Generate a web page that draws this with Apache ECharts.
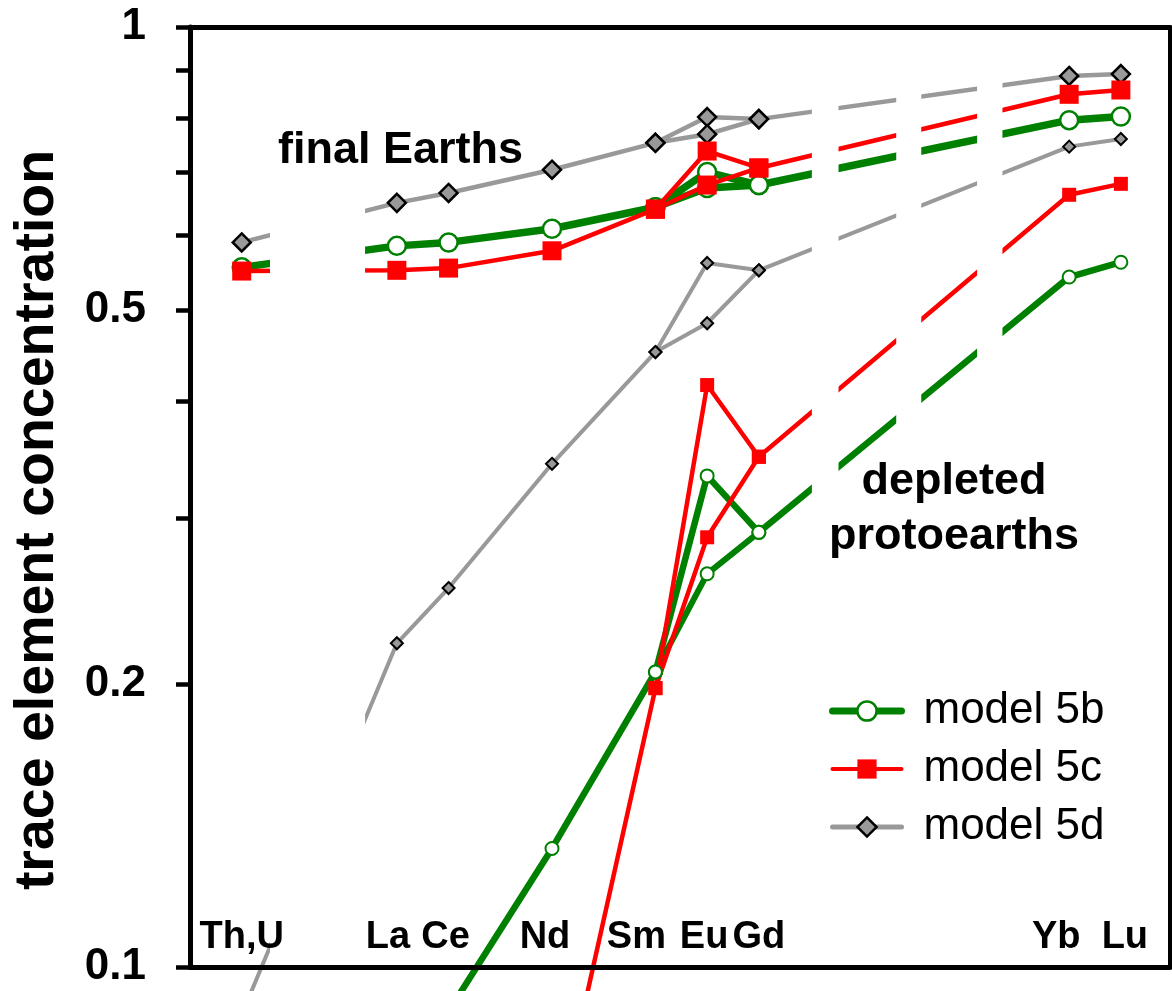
<!DOCTYPE html>
<html>
<head>
<meta charset="utf-8">
<script src="https://cdn.jsdelivr.net/npm/echarts@6/dist/echarts.min.js"></script>
<style>
html,body{margin:0;padding:0;background:#fff;}
#chart{width:1172px;height:991px;}
</style>
</head>
<body>
<div id="chart"></div>
<script>
// ---------- data ----------
const elements   = ['Th,U', 'La', 'Ce', 'Nd', 'Sm', 'Eu', 'Gd', 'Yb', 'Lu'];
const elementPos = [0, 3, 4, 6, 8, 9, 10, 16, 17];

// final Earths (values per element; Eu has two alternatives)
const final5b = [0.555, 0.585, 0.590, 0.610, 0.643, 0.701, 0.679, 0.796, 0.803];
const final5bEuAlt = 0.674;
const final5c = [0.550, 0.551, 0.554, 0.578, 0.640, 0.738, 0.708, 0.848, 0.857];
const final5cEuAlt = 0.679;
const final5d = [0.590, 0.650, 0.666, 0.705, 0.753, 0.802, 0.798, 0.887, 0.891];
const final5dEuAlt = 0.769;

// depleted protoearths
const depleted5b = [null, null, 0.0897, 0.1337, 0.206, 0.333, 0.290, 0.542, 0.562];
const depleted5bEuAlt = 0.262;
const depleted5c = [null, null, null, 0.0637, 0.198, 0.416, 0.349, 0.663, 0.681];
const depleted5cEuAlt = 0.2865;
const depleted5d = [0.089, 0.221, 0.253, 0.343, 0.451, 0.561, 0.551, 0.746, 0.760];
const depleted5dEuAlt = 0.484;

const yTickValues  = [0.1, 0.2, 0.3, 0.4, 0.5, 0.6, 0.7, 0.8, 0.9, 1];
const yLabelValues = [0.1, 0.2, 0.5, 1];
const legendNames  = ['model 5b', 'model 5c', 'model 5d'];

// ---------- styling / helpers ----------
const FONT = 'Arial, "Liberation Sans", sans-serif';
const GREEN = '#008000', RED = '#ff0000', GREY = '#999999';
// white vertical strips that interrupt the lines (in x-axis units)
const maskBands = [[0.547, 2.385], [11.025, 11.54], [12.656, 13.14], [14.22, 14.71]];
// horizontal nudges of element labels (px)
const labelShift = {'Th,U': 0, 'La': -9, 'Ce': -3, 'Nd': -7, 'Sm': -19, 'Eu': -3, 'Gd': 0, 'Yb': -13, 'Lu': 4};

function mainPoints(arr) {
  const out = [];
  elementPos.forEach((x, i) => { if (arr[i] != null) out.push([x, arr[i]]); });
  return out;
}
function altPoints(arr, alt) {
  const iSm = elements.indexOf('Sm'), iEu = elements.indexOf('Eu'), iGd = elements.indexOf('Gd');
  return [[elementPos[iSm], arr[iSm]], [elementPos[iEu], alt], [elementPos[iGd], arr[iGd]]];
}
function lineSeries(name, data, color, width, symbol, size, itemStyle) {
  return {
    type: 'line', name: name, data: data, clip: false,
    symbol: symbol, symbolSize: size, showAllSymbol: true,
    lineStyle: {color: color, width: width},
    itemStyle: itemStyle,
    emphasis: {disabled: true},
    z: 3
  };
}

const bigDiamond   = {color: GREY, borderColor: '#000', borderWidth: 2.5};
const smallDiamond = {color: GREY, borderColor: '#000', borderWidth: 2};
const bigCircle    = {color: '#fff', borderColor: GREEN, borderWidth: 2.5};
const smallCircle  = {color: '#fff', borderColor: GREEN, borderWidth: 2};
const redSquare    = {color: RED, borderWidth: 0};

const series = [
  lineSeries('model 5d', mainPoints(final5d), GREY, 4.5, 'diamond', [18, 18], bigDiamond),
  lineSeries('model 5d', altPoints(final5d, final5dEuAlt), GREY, 4.5, 'diamond', [18, 18], bigDiamond),
  lineSeries('model 5d', mainPoints(depleted5d), GREY, 4, 'diamond', [12, 12], smallDiamond),
  lineSeries('model 5d', altPoints(depleted5d, depleted5dEuAlt), GREY, 4, 'diamond', [12, 12], smallDiamond),
  lineSeries('model 5b', mainPoints(final5b), GREEN, 7.5, 'circle', 18, bigCircle),
  lineSeries('model 5b', altPoints(final5b, final5bEuAlt), GREEN, 7.5, 'circle', 18, bigCircle),
  lineSeries('model 5b', mainPoints(depleted5b), GREEN, 6.5, 'circle', 13, smallCircle),
  lineSeries('model 5b', altPoints(depleted5b, depleted5bEuAlt), GREEN, 6, 'circle', 13, smallCircle),
  lineSeries('model 5c', mainPoints(final5c), RED, 4.5, 'rect', 19, redSquare),
  lineSeries('model 5c', altPoints(final5c, final5cEuAlt), RED, 4.5, 'rect', 19, redSquare),
  lineSeries('model 5c', mainPoints(depleted5c), RED, 4.5, 'rect', 14, redSquare),
  lineSeries('model 5c', altPoints(depleted5c, depleted5cEuAlt), RED, 4.5, 'rect', 14, redSquare),
  {
    type: 'line', name: 'mask', data: [], z: 10, silent: true,
    markArea: {
      silent: true, z: 10,
      itemStyle: {color: '#ffffff', borderWidth: 0},
      label: {show: false},
      data: maskBands.map(b => [{xAxis: b[0]}, {xAxis: b[1]}])
    }
  }
];

// element labels: shift each label horizontally without enlarging its box
const LABEL_FONT = 'bold 38px ' + FONT;
const measureCtx = document.createElement('canvas').getContext('2d');
measureCtx.font = LABEL_FONT;
const rich = {};
elements.forEach((e, i) => {
  const s = labelShift[e] || 0;
  const tw = measureCtx.measureText(e).width;
  const st = {fontSize: 38, fontWeight: 'bold', fontFamily: FONT, color: '#000', lineHeight: 38};
  if (s !== 0) {
    st.width = Math.max(2, tw - 2 * Math.abs(s));
    st.align = s < 0 ? 'right' : 'left';
  }
  rich['l' + i] = st;
});

const legendStyles = {
  'model 5b': {lineStyle: {color: GREEN, width: 7, cap: 'round'}, itemStyle: {color: '#fff', borderColor: GREEN, borderWidth: 2.5}},
  'model 5c': {lineStyle: {color: RED, width: 4, cap: 'round'}, itemStyle: {color: RED, borderWidth: 0}},
  'model 5d': {lineStyle: {color: GREY, width: 5, cap: 'round'}, itemStyle: {color: GREY, borderColor: '#000', borderWidth: 2.5}}
};

const option = {
  backgroundColor: '#fff',
  animation: false,
  grid: {left: 190, right: 2, top: 27, bottom: 24, containLabel: false},
  legend: {
    data: legendNames.map(n => Object.assign({name: n}, legendStyles[n])),
    orient: 'vertical', left: 829, top: 688, z: 30,
    itemWidth: 69, itemHeight: 24, itemGap: 12, padding: 0, selectedMode: false,
    textStyle: {fontSize: 44, fontFamily: FONT, color: '#000', lineHeight: 46, padding: [0, 0, 0, 17]}
  },
  xAxis: [
    {
      type: 'value', min: -1, max: 17.95, position: 'bottom', z: 20,
      axisLine: {show: true, onZero: false, lineStyle: {color: '#000', width: 5}},
      axisTick: {show: false},
      splitLine: {show: false},
      axisLabel: {
        inside: true, margin: 10, showMaxLabel: true, showMinLabel: true, hideOverlap: false,
        customValues: elementPos,
        formatter: function (v) {
          const i = elementPos.indexOf(Math.round(v));
          return i < 0 ? '' : '{l' + i + '|' + elements[i] + '}';
        },
        rich: rich
      }
    },
    {
      type: 'value', min: -1, max: 17.95, position: 'top', z: 20,
      axisLine: {show: true, onZero: false, lineStyle: {color: '#000', width: 5}},
      axisTick: {show: false}, axisLabel: {show: false}, splitLine: {show: false}
    }
  ],
  yAxis: [
    {
      type: 'log', logBase: 10, min: 0.1, max: 1, position: 'left', z: 20,
      axisLine: {show: true, onZero: false, lineStyle: {color: '#000', width: 5}},
      axisTick: {show: true, inside: false, length: 14, lineStyle: {color: '#000', width: 4.5}, customValues: yTickValues},
      minorTick: {show: false},
      splitLine: {show: false},
      axisLabel: {
        customValues: yLabelValues, margin: 44,
        fontSize: 44, fontWeight: 'bold', fontFamily: FONT, color: '#000',
        formatter: function (v) { return String(+(+v).toPrecision(3)); }
      },
      name: 'trace element concentration', nameLocation: 'middle', nameRotate: 90, nameGap: 124,
      nameTextStyle: {fontSize: 55.5, fontWeight: 'bold', fontFamily: FONT, color: '#000', padding: [0, 46, 0, 0]}
    },
    {
      type: 'log', logBase: 10, min: 0.1, max: 1, position: 'right', z: 20,
      axisLine: {show: true, onZero: false, lineStyle: {color: '#000', width: 4}},
      axisTick: {show: false}, axisLabel: {show: false}, splitLine: {show: false}
    }
  ],
  graphic: [
    {type: 'text', x: 278, y: 151, z: 30, silent: true,
     style: {text: 'final Earths', font: 'bold 45px ' + FONT, fill: '#000', textAlign: 'left', textVerticalAlign: 'middle'}},
    {type: 'text', x: 954, y: 509, z: 30, silent: true,
     style: {text: 'depleted\nprotoearths', font: 'bold 45px ' + FONT, fill: '#000', textAlign: 'center', textVerticalAlign: 'middle', lineHeight: 55}}
  ],
  series: series
};

const chart = echarts.init(document.getElementById('chart'), null, {renderer: 'canvas'});
chart.setOption(option);
</script>
</body>
</html>
